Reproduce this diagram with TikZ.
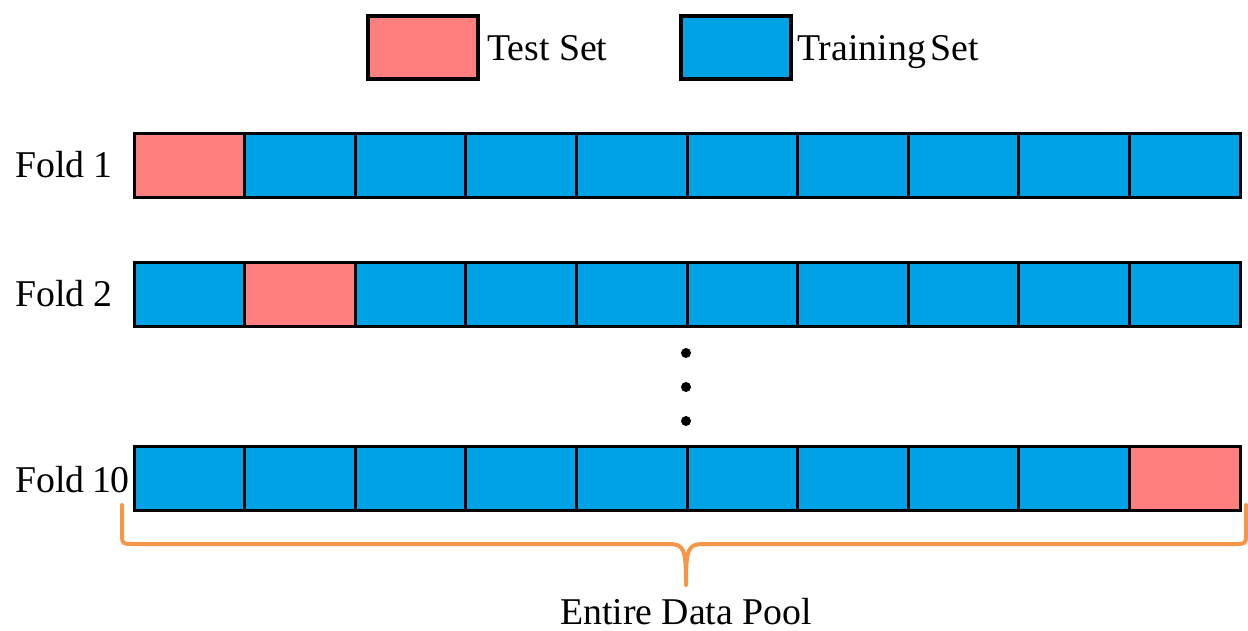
\documentclass[tikz,border=0pt]{standalone}
\usepackage{fontspec}
\setmainfont{Liberation Serif}
\definecolor{testc}{HTML}{FF7F7F}
\definecolor{trainc}{HTML}{00A2E6}
\definecolor{bracec}{HTML}{F79646}
\begin{document}
\begin{tikzpicture}[x=1pt,y=-1pt,
  cell/.style={draw=black, line width=3pt, minimum width=110.6pt, minimum height=64pt, inner sep=0pt, outer sep=0pt, anchor=north west},
  testcell/.style={cell, fill=testc},
  traincell/.style={cell, fill=trainc},
  legbox/.style={draw=black, line width=4pt, minimum width=110pt, minimum height=63pt, inner sep=0pt, anchor=north west},
  lbl/.style={font=\fontsize{37.8}{40}\selectfont, inner sep=0pt, anchor=base west},
  dot/.style={circle, fill=black, minimum size=10pt, inner sep=0pt},
  bracestyle/.style={draw=bracec, line width=4pt, line cap=round, line join=round}]
\useasboundingbox (0,0) rectangle (1248,630);
% legend
\node[legbox, fill=testc] (legtest) at (366,14) {};
\node[lbl] (legtesttxt) at (487,60) {Test Set};
\node[legbox, fill=trainc] (legtrain) at (679,14) {};
\node[lbl] (legtraintxt) at (797,60) {Training\hspace{-0.12em} Set};
% rows
\foreach \r/\y/\t in {1/133/1, 2/262/2, 10/446/10}{
  \foreach \i in {1,...,10}{
    \pgfmathsetmacro{\xx}{134+(\i-1)*110.6}
    \ifnum\i=\t
      \node[testcell] (c\r-\i) at (\xx,\y) {};
    \else
      \node[traincell] (c\r-\i) at (\xx,\y) {};
    \fi
  }
}
\node[lbl] (f1) at (15,177) {Fold 1};
\node[lbl] (f2) at (15,306) {Fold 2};
\node[lbl] (f10) at (15,492) {Fold\hspace{-0.05em} 10};
% dots
\node[dot] (d1) at (686,353) {};
\node[dot] (d2) at (686,387) {};
\node[dot] (d3) at (686,421) {};
% brace
\coordinate (bl) at (122,505);
\coordinate (br) at (1246,505);
\coordinate (bt) at (686,585);
\draw[bracestyle] (bl) -- (122,532) .. controls (122,544) .. (134,544) -- (668,544)
  .. controls (684,544) and (686,548) .. (bt)
  .. controls (686,548) and (688,544) .. (704,544) -- (1234,544)
  .. controls (1246,544) .. (1246,532) -- (br);
\node[lbl, anchor=base] (pool) at (686,624) {Entire Data Pool};
\end{tikzpicture}
\end{document}
